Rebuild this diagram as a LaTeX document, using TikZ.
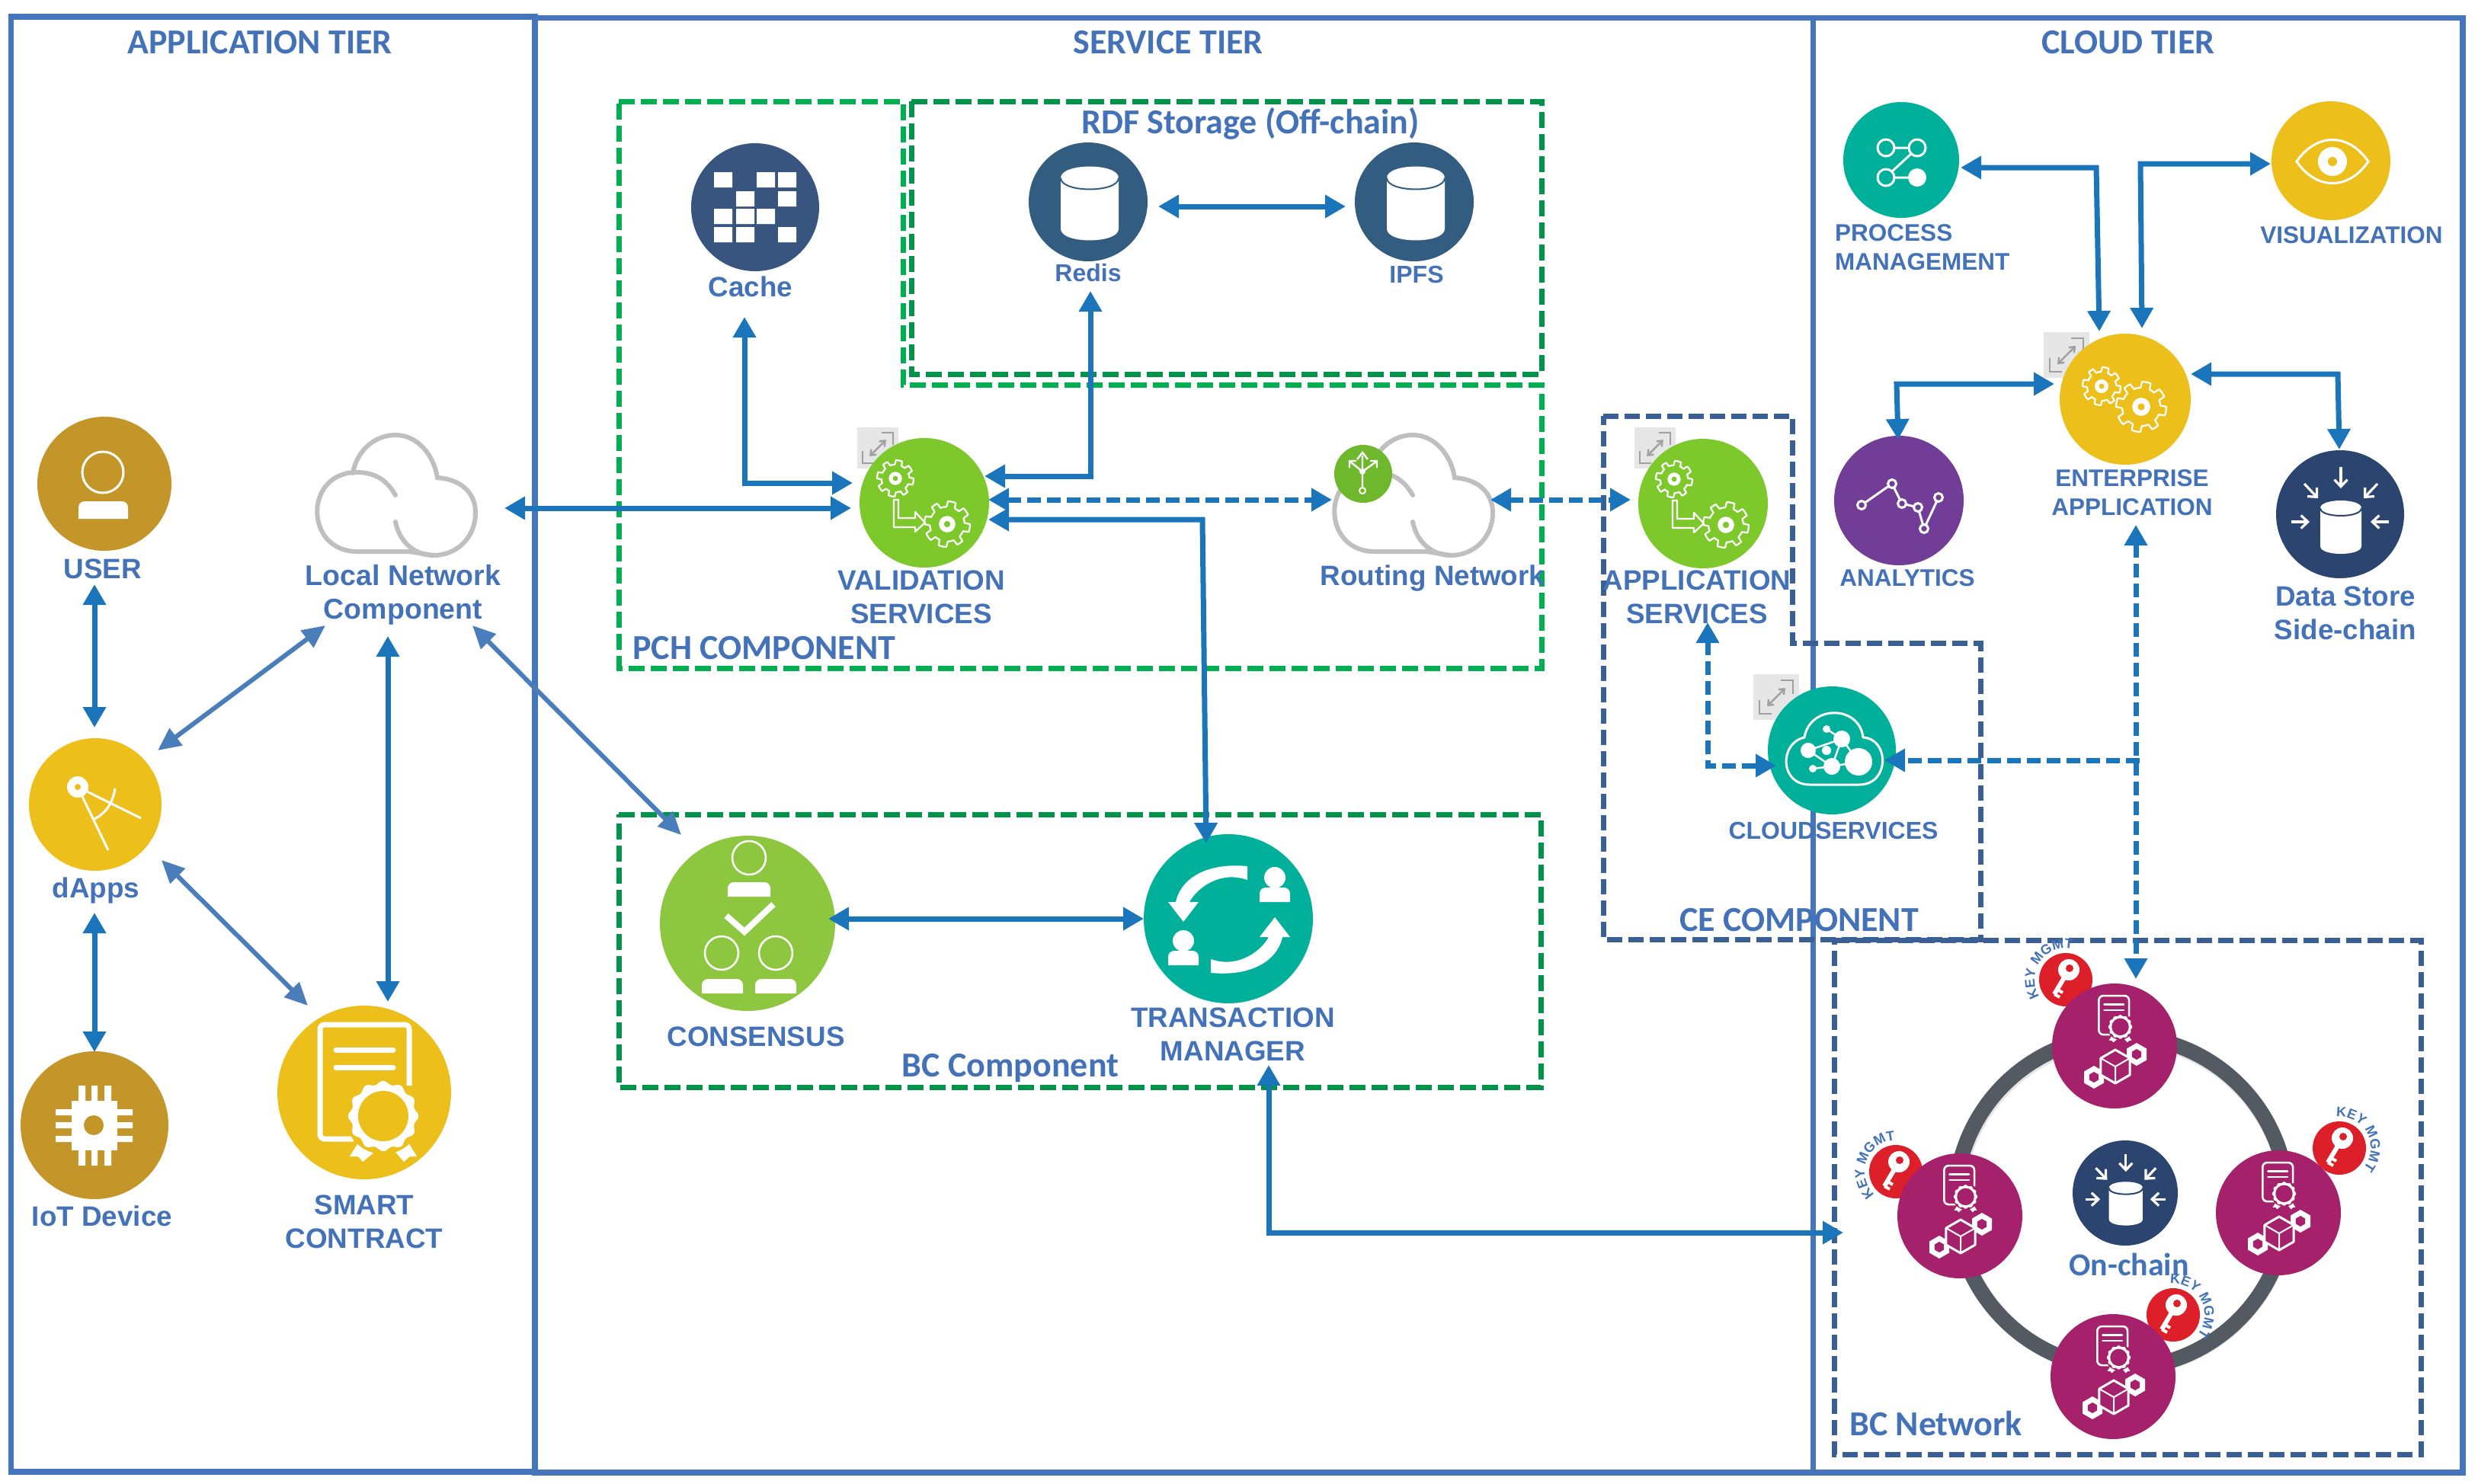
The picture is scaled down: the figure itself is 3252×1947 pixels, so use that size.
\documentclass[tikz,border=0pt]{standalone}
\usepackage{fontspec}
\setmainfont{Liberation Sans}
\newfontfamily\carl{Carlito}
\usetikzlibrary{arrows.meta,decorations.text}
\definecolor{frameblue}{HTML}{4576BD}
\definecolor{labelblue}{HTML}{4472B8}
\definecolor{linkblue}{HTML}{1B75BB}
\definecolor{slantblue}{HTML}{4A7EBB}
\definecolor{pchgreen}{HTML}{00B050}
\definecolor{bcgreen}{HTML}{00944A}
\definecolor{cenavy}{HTML}{3A5F94}
\definecolor{gold}{HTML}{C4962A}
\definecolor{yell}{HTML}{ECBF1B}
\definecolor{valgreen}{HTML}{7DC82A}
\definecolor{consgreen}{HTML}{8DC63F}
\definecolor{routgreen}{HTML}{6DB82C}
\definecolor{teal}{HTML}{00B09B}
\definecolor{navyA}{HTML}{37557F}
\definecolor{navyB}{HTML}{335C81}
\definecolor{navyC}{HTML}{2B4570}
\definecolor{purp}{HTML}{723D97}
\definecolor{magent}{HTML}{A6216C}
\definecolor{keyred}{HTML}{DD1F2A}
\definecolor{ringgray}{HTML}{545A62}
\definecolor{cloudgray}{HTML}{BFBFBF}
\definecolor{expfill}{HTML}{E6E6E6}
\definecolor{expline}{HTML}{A0A0A0}
\tikzset{
 disc/.style={circle,inner sep=0pt,draw=none},
 frm/.style={draw=frameblue,line width=7.5pt},
 pchbox/.style={draw=pchgreen,line width=7pt,dash pattern=on 21pt off 8pt},
 bcbox/.style={draw=bcgreen,line width=7pt,dash pattern=on 21pt off 8pt},
 cebox/.style={draw=cenavy,line width=7pt,dash pattern=on 20pt off 8pt},
 link/.style={draw=linkblue,line width=7pt,{Triangle[length=27pt,width=29pt]}-{Triangle[length=27pt,width=29pt]}},
 dlink/.style={link,dash pattern=on 18pt off 8pt},
 dlinkone/.style={draw=linkblue,line width=7pt,dash pattern=on 18pt off 8pt,-{Triangle[length=27pt,width=29pt]}},
 slant/.style={draw=slantblue,line width=6pt,{Triangle[length=30pt,width=27pt]}-{Triangle[length=30pt,width=27pt]}},
 lbl/.style={text=labelblue,inner sep=0pt,align=center},
 fa/.style={lbl,font=\bfseries\fontsize{36.8}{44}\selectfont},
 fb/.style={lbl,font=\bfseries\fontsize{31.5}{38}\selectfont},
 fc/.style={lbl,font=\bfseries\fontsize{32}{38}\selectfont},
 ttl/.style={lbl,font=\carl\bfseries\fontsize{46}{50}\selectfont},
 ic/.style={white,line width=3pt},
}
\newcommand\iconGear[4]{\begin{scope}[shift={(#1,#2)}]
 \draw[white,line width=2.2pt,line join=round] plot[domain=0:356,samples=90] (\x:{#3*((mod(\x,45)<22.5)?1:0.76)}) -- cycle;
 \fill[white] (0,0) circle[radius=#3*0.36];
 \fill[#4] (0,0) circle[radius=#3*0.14];
\end{scope}}
\newcommand\iconFlow[3]{\begin{scope}[shift={(#1,#2)}]
 \iconGear{-38}{-32}{24}{#3}
 \iconGear{30}{28}{30}{#3}
 \draw[white,line width=2.2pt,line join=round] (-40,-4)--(-34,-4)--(-34,20)--(-12,20)--(-12,12)--(1,26)--(-12,38)--(-12,32)--(-40,32)--cycle;
\end{scope}}
\newcommand\iconExpand[3]{\begin{scope}[shift={(#1,#2)},scale=#3/60]
 \fill[expfill] (-30,-30) rectangle (30,30);
 \draw[expline,line width=2.5pt] (-22,4)--(-22,22)--(-6,22) (22,-4)--(22,-22)--(6,-22);
 \draw[expline,line width=2.5pt,{Straight Barb[length=6pt,width=10pt]}-{Straight Barb[length=6pt,width=10pt]}] (-12,12)--(12,-12);
\end{scope}}
\newcommand\iconBody[4]{\fill[white] (#1,#4) [rounded corners=8pt] -- (#1,#3) -- (#2,#3) [sharp corners] -- (#2,#4) -- cycle;}
\newcommand\iconCloud[2]{\begin{scope}[shift={(#1,#2)}]
 \draw[cloudgray,line width=6pt,line cap=round] (50,78) -- (18,73) -- (-51,73) .. controls (-120,72) and (-120,-31) .. (-51,-31) .. controls (-28,-31) and (-12,-22) .. (0,-1);
 \draw[cloudgray,line width=6pt,line cap=round] (-56,-30) .. controls (-50,-62) and (-25,-80) .. (0,-80) .. controls (28,-80) and (50,-55) .. (55,-24) .. controls (85,-22) and (105,-5) .. (105,22) .. controls (105,55) and (80,78) .. (50,78) .. controls (25,78) and (5,60) .. (0,34);
\end{scope}}
\newcommand\iconCyl[6]{\begin{scope}[shift={(#1,#2)}]
 \pgfmathsetmacro\cyt{-#4/2+#5}\pgfmathsetmacro\cyb{#4/2-#5}\pgfmathsetmacro\cyc{1.33*#5}
 \fill[white] (-#3,\cyt) .. controls (-#3,\cyt-\cyc) and (#3,\cyt-\cyc) .. (#3,\cyt) -- (#3,\cyb) .. controls (#3,\cyb+\cyc) and (-#3,\cyb+\cyc) .. (-#3,\cyb) -- cycle;
 \draw[#6,line width=2pt] (-#3,\cyt) .. controls (-#3,\cyt+\cyc) and (#3,\cyt+\cyc) .. (#3,\cyt);
\end{scope}}
\newcommand\iconDB[4]{\begin{scope}[shift={(#1,#2)},scale=#3]
 \iconCyl{1}{17}{27}{70}{10}{#4}
 \foreach \ax/\ay/\bx/\by in {1/-62/1/-34,-64/10/-40/10,64/10/40/10,-47/-40/-29/-21,49/-40/31/-21}
  \draw[white,line width=3.2pt,-{Straight Barb[length=9pt,width=17pt]}] (\ax,\ay)--(\bx,\by);
\end{scope}}
\newcommand\iconCert[5]{\begin{scope}[shift={(#1,#2)},scale=#3]
 \draw[white,line width=#4pt,rounded corners=6pt] (59,-8)--(59,-88)--(-58,-88)--(-58,62)--(-14,62);
 \draw[white,line width=#4pt,line cap=round] (-37,-55)--(38,-55) (-37,-32)--(38,-32);
 \fill[white] (-5,62)--(-19,85)--(-8,85)--(-2,92)--(15,78)--cycle;
 \fill[white] (40,78)--(52,92)--(60,85)--(69,85)--(55,62)--cycle;
 \fill[#5] (25,32) circle[radius=50];
 \fill[white,shift={(25,32)}] plot[domain=0:357,samples=120,smooth] (\x:{44*(1+0.05*cos(12*\x))}) -- cycle;
 \fill[#5] (25,32) circle[radius=33];
\end{scope}}
\newcommand\hexpath[1]{(30:#1)--(90:#1)--(150:#1)--(210:#1)--(270:#1)--(330:#1)--cycle}
\newcommand\iconBlock[2]{\begin{scope}[shift={(#1,#2)}]
 \begin{scope}[shift={(-28,14)}]\fill[white] \hexpath{15};\fill[magent] \hexpath{7};\end{scope}
 \begin{scope}[shift={(28,-16)}]\fill[white] \hexpath{15};\fill[magent] \hexpath{7};\end{scope}
 \filldraw[draw=white,fill=magent,line width=3pt,line join=round] \hexpath{22};
 \draw[white,line width=2pt] (0,0)--(90:22) (0,0)--(210:22) (0,0)--(330:22);
\end{scope}}
\newcommand\iconPeer[2]{\iconCert{#1-1}{#2-36}{0.34}{2.6}{magent}\iconBlock{#1+1}{#2+27}}
\newcommand\iconKey[2]{\begin{scope}[shift={(#1,#2)}]
 \draw[white,line width=6pt] (4,-13)--(-15,19);
 \draw[white,line width=4pt] (-11,13)--(-4,17) (-15,19)--(-8,23);
 \fill[white] (4,-13) circle[radius=14];
 \fill[keyred] (5,-15) circle[radius=5];
\end{scope}}
\newcommand\keyArc[4]{\path[decorate,decoration={text along path,text align=center,text={|\color{labelblue}\bfseries\fontsize{18}{20}\selectfont|KEY MGMT}}] ({#1+41*cos(#3)},{#2-41*sin(#3)}) arc[start angle=#3,end angle=#4,radius=41pt];}
\begin{document}
\begin{tikzpicture}[x=1pt,y=-1pt]
\fill[white] (0,0) rectangle (3252,1947);
\useasboundingbox (0,0) rectangle (3252,1947);
% tiers
\draw[frm] (14.5,22) rectangle (702,1932);
\draw[frm] (702,23.5) rectangle (2379.5,1933);
\draw[frm] (2379.5,23.5) rectangle (3232,1933);
\node[ttl] (tApp) at (341,56) {APPLICATION TIER};
\node[ttl] (tSvc) at (1533,56) {SERVICE TIER};
\node[ttl] (tCld) at (2793,56) {CLOUD TIER};
% component boxes
\draw[pchbox] (812,133)--(1185,133)--(1185,505)--(2023,505)--(2023,877)--(812,877)--cycle;
\draw[bcbox] (1196,133)--(2023,133)--(2023,491)--(1196,491)--cycle;
\draw[bcbox] (812,1069)--(2022,1069)--(2022,1427)--(812,1427)--cycle;
\draw[cebox] (2104,546)--(2352,546)--(2352,844)--(2599,844)--(2599,1233)--(2104,1233)--cycle;
\draw[cebox] (2407,1234)--(3177,1234)--(3177,1909)--(2407,1909)--cycle;
\node[ttl] (tRdf) at (1641,162) {RDF Storage (Off-chain)};
\node[ttl,anchor=west] (tPch) at (830,851) {PCH COMPONENT};
\node[ttl] (tBc) at (1326,1402) {BC Component};
\node[ttl] (tCe) at (2361,1208) {CE COMPONENT};
\node[ttl,anchor=west] (tNet) at (2427,1869) {BC Network};
% application tier
\node[disc,fill=gold,minimum size=176pt] (user) at (137,635) {};
\draw[white,line width=3pt] (135,620) circle[radius=27];
\iconBody{103}{168}{658}{681}
\node[disc,fill=yell,minimum size=174pt] (dapp) at (125,1056) {};
\draw[ic] (102,1033)--(142,1116) (102,1033)--(185,1074);
\draw[ic] (151,1035) .. controls (148,1055) and (138,1068) .. (124,1075);
\fill[white] (102,1033) circle[radius=14];
\fill[yell] (102,1033) circle[radius=4];
\node[disc,fill=gold,minimum size=194pt] (iot) at (124,1477) {};
\fill[white] (73,1456) rectangle (174,1464) (73,1473) rectangle (174,1481) (73,1491) rectangle (174,1499);
\fill[white] (103,1425) rectangle (112,1530) (120,1425) rectangle (128,1530) (137,1425) rectangle (146,1530);
\fill[white] (94,1445) rectangle (154,1510);
\fill[gold] (123,1477) circle[radius=13];
\node[disc,fill=yell,minimum size=228pt] (smart) at (478,1434) {};
\iconCert{478}{1433}{1}{7}{yell}
\iconCloud{519}{651}
\coordinate (localC) at (519,651);
\node[fa] (userL) at (135,747) {USER};
\node[fa] (dappL) at (126,1169) {dApps};
\node[fa] (iotL) at (134,1596) {IoT Device};
\node[fa] (smartL) at (478,1604) {SMART\\CONTRACT};
\node[lbl,font=\bfseries\fontsize{37.5}{44}\selectfont] (localL) at (529,781) {Local Network\\Component};
% PCH
\node[disc,fill=navyA,minimum size=168pt] (cache) at (991,272) {};
\fill[white] (937,226) rectangle +(24,20) (993,226) rectangle +(24,20) (1021,226) rectangle +(24,20)
 (966,251) rectangle +(24,20) (1021,251) rectangle +(24,20)
 (937,274) rectangle +(24,20) (966,274) rectangle +(24,20) (993,274) rectangle +(24,20)
 (937,298) rectangle +(24,20) (966,298) rectangle +(24,20) (1021,298) rectangle +(24,20);
\node[disc,fill=navyB,minimum size=156pt] (redis) at (1428,265) {};
\iconCyl{1430}{267}{38}{97}{15}{navyB}
\node[disc,fill=navyB,minimum size=156pt] (ipfs) at (1856,265) {};
\iconCyl{1858}{267}{38}{97}{15}{navyB}
\node[fa] (cacheL) at (985,376) {Cache};
\node[fc] (redisL) at (1428,358) {Redis};
\node[fc] (ipfsL) at (1859,360) {IPFS};
\iconExpand{1152}{588}{54}
\node[disc,fill=valgreen,minimum size=170pt] (val) at (1213,660) {};
\iconFlow{1213}{660}{valgreen}
\node[fa] (valL) at (1209,784) {VALIDATION\\SERVICES};
\iconCloud{1854}{651}
\coordinate (routC) at (1854,651);
\node[disc,fill=routgreen,minimum size=76pt] (rout) at (1789,622) {};
\draw[white,line width=2.4pt] (1788,640)--(1788,598) (1788,619)--(1772,606) (1788,619)--(1806,606);
\draw[white,line width=2.4pt] (1781,603)--(1788,594)--(1795,603) (1771,614)--(1771,605)--(1780,605) (1807,614)--(1807,605)--(1798,605);
\fill[white] (1788,619) circle[radius=4];
\draw[white,line width=2pt] (1788,644) circle[radius=4];
\node[fa] (routL) at (1880,759) {Routing Network};
% BC component
\node[disc,fill=consgreen,minimum size=230pt] (cons) at (981,1212) {};
\draw[white,line width=2.5pt] (983,1126) circle[radius=22];
\iconBody{955}{1011}{1158}{1177}
\draw[white,line width=8pt] (953,1202)--(977,1223)--(1015,1187);
\draw[white,line width=2.5pt] (947,1251) circle[radius=22] (1018,1251) circle[radius=22];
\iconBody{921}{975}{1285}{1304}
\iconBody{991}{1045}{1285}{1304}
\node[disc,fill=teal,minimum size=222pt] (tm) at (1612,1206) {};
\begin{scope}[shift={(1613,1207)}]
 \fill[white] (24,-70) .. controls (-28,-75) and (-63,-55) .. (-70,-23) -- (-80,-23) -- (-60,3) -- (-40,-23) -- (-52,-23) .. controls (-43,-40) and (-13,-65) .. (24,-52) -- cycle;
 \fill[white] (-24,70) .. controls (28,75) and (63,55) .. (70,23) -- (80,23) -- (60,-3) -- (40,23) -- (52,23) .. controls (43,40) and (13,65) .. (-24,52) -- cycle;
\end{scope}
\fill[white] (1673,1152) circle[radius=14] (1553,1235) circle[radius=14];
\iconBody{1653}{1693}{1165}{1184}
\iconBody{1533}{1573}{1248}{1267}
\node[fa] (consL) at (992,1361) {CONSENSUS};
\node[fa] (tmL) at (1618,1358) {TRANSACTION\\MANAGER};
% CE
\iconExpand{2172}{588}{54}
\node[disc,fill=valgreen,minimum size=170pt] (app) at (2235,661) {};
\iconFlow{2235}{661}{valgreen}
\node[fa] (appL) at (2227,784) {APPLICATION\\SERVICES};
\iconExpand{2331}{915}{60}
\node[disc,fill=teal,minimum size=168pt] (csv) at (2404,985) {};
\draw[white,line width=3pt,line join=round] (2375,1030) .. controls (2335,1030) and (2335,975) .. (2368,968) .. controls (2375,925) and (2440,925) .. (2445,968) .. controls (2480,970) and (2480,1030) .. (2440,1030) -- cycle;
\draw[white,line width=2.5pt] (2373,985)--(2417,970)--(2404,1006)--(2373,985) (2417,970)--(2439,1000)--(2404,1006)--(2379,1009) (2397,957)--(2417,970);
\fill[white] (2373,985) circle[radius=10] (2417,970) circle[radius=11] (2439,1000) circle[radius=18] (2404,1006) circle[radius=11] (2397,985) circle[radius=6] (2397,957) circle[radius=5] (2379,1009) circle[radius=5];
\node[fc] (csvL) at (2406,1090) {CLOUDSERVICES};
% cloud tier
\node[disc,fill=teal,minimum size=152pt] (proc) at (2495,210) {};
\draw[white,line width=3pt] (2475,194) circle[radius=11] (2516,194) circle[radius=11] (2475,233) circle[radius=11] (2486,194)--(2505,194) (2486,233)--(2505,233) (2508,202)--(2483,225);
\fill[white] (2516,233) circle[radius=12];
\node[fb,align=left,anchor=west] (procL) at (2408,325) {PROCESS\\MANAGEMENT};
\node[disc,fill=yell,minimum size=156pt] (vis) at (3059,211) {};
\draw[white,line width=3pt] (3014,212) .. controls (3040,174) and (3082,174) .. (3108,212) .. controls (3082,250) and (3040,250) .. (3014,212) -- cycle;
\fill[white] (3061,212) circle[radius=19];
\fill[yell] (3061,212) circle[radius=6];
\node[fb] (visL) at (3086,309) {VISUALIZATION};
\iconExpand{2712}{466}{60}
\node[disc,fill=yell,minimum size=172pt] (ent) at (2789,524) {};
\iconGear{2758}{507}{25}{yell}
\iconGear{2810}{534}{33}{yell}
\node[fb] (entL) at (2798,647) {ENTERPRISE\\APPLICATION};
\node[disc,fill=purp,minimum size=170pt] (ana) at (2492,657) {};
\draw[white,line width=3pt] (2443,663)--(2483,635)--(2496,661)--(2517,666)--(2525,694)--(2544,653);
\foreach \px/\py in {2443/663,2483/635,2496/661,2517/666,2525/694,2544/653}
 \filldraw[draw=white,fill=purp,line width=3pt] (\px,\py) circle[radius=5.5];
\node[fb] (anaL) at (2503,759) {ANALYTICS};
\node[disc,fill=navyC,minimum size=168pt] (ds) at (3071,675) {};
\iconDB{3071}{675}{1}{navyC}
\node[fa] (dsL) at (3078,805) {Data Store\\Side-chain};
% BC network
\draw[black!20,line width=20pt,opacity=0.5] (2785,1580) circle[radius=217];
\draw[ringgray,line width=20pt] (2784,1578) circle[radius=218];
\node[disc,fill=keyred,minimum size=70pt] (k1) at (2711,1286) {};
\iconKey{2711}{1286}
\keyArc{2711}{1286}{235}{55}
\node[disc,fill=keyred,minimum size=70pt] (k2) at (3070,1507) {};
\iconKey{3070}{1507}
\keyArc{3070}{1507}{118}{-62}
\node[disc,fill=keyred,minimum size=70pt] (k3) at (2488,1538) {};
\iconKey{2488}{1538}
\keyArc{2488}{1538}{249}{69}
\node[disc,fill=keyred,minimum size=70pt] (k4) at (2852,1726) {};
\iconKey{2852}{1726}
\keyArc{2852}{1726}{118}{-62}
\node[disc,fill=magent,minimum size=164pt] (p1) at (2775,1373) {};
\iconPeer{2775}{1373}
\node[disc,fill=magent,minimum size=164pt] (p2) at (2990,1592) {};
\iconPeer{2990}{1592}
\node[disc,fill=magent,minimum size=164pt] (p3) at (2572,1596) {};
\iconPeer{2572}{1596}
\node[disc,fill=magent,minimum size=164pt] (p4) at (2773,1807) {};
\iconPeer{2773}{1807}
\node[disc,fill=navyC,minimum size=138pt] (onc) at (2789,1566) {};
\iconDB{2789}{1566}{0.82}{navyC}
\node[ttl,font=\carl\bfseries\fontsize{42}{50}\selectfont] (oncL) at (2794,1660) {On-chain};
% connector ends
\coordinate (userS) at (124,767);
\coordinate (dappN) at (124,955);
\coordinate (dappS) at (124,1198);
\coordinate (iotN) at (124,1381);
\coordinate (dappNE) at (207,985);
\coordinate (localSW) at (427,821);
\coordinate (dappSE) at (212,1129);
\coordinate (smartNW) at (404,1320);
\coordinate (localS) at (509,835);
\coordinate (smartN) at (509,1315);
\coordinate (localSE) at (620,821);
\coordinate (consNW) at (894,1096);
\coordinate (localE) at (662,667);
\coordinate (valW) at (1117,667);
\coordinate (cacheS) at (977,416);
\coordinate (cacheBend) at (977,634);
\coordinate (valNW) at (1119,634);
\coordinate (redisS) at (1431,382);
\coordinate (redisBend) at (1431,625);
\coordinate (valNE) at (1292,625);
\coordinate (redisE) at (1520,271);
\coordinate (ipfsW) at (1766,271);
\coordinate (valE) at (1297,656);
\coordinate (routW) at (1748,656);
\coordinate (routE) at (1956,656);
\coordinate (appW) at (2140,656);
\coordinate (valSE) at (1297,682);
\coordinate (tmBend) at (1578,682);
\coordinate (tmN) at (1583,1107);
\coordinate (consE) at (1087,1206);
\coordinate (tmW) at (1501,1206);
\coordinate (tmS) at (1665,1398);
\coordinate (tmBendB) at (1665,1618);
\coordinate (netW) at (2419,1618);
\coordinate (procE) at (2573,220);
\coordinate (procBend) at (2751,220);
\coordinate (entNa) at (2755,435);
\coordinate (visW) at (2980,215);
\coordinate (visBend) at (2809,215);
\coordinate (entNb) at (2811,431);
\coordinate (entW) at (2696,504);
\coordinate (anaBend) at (2489,504);
\coordinate (anaN) at (2491,577);
\coordinate (entE) at (2875,491);
\coordinate (dsBend) at (3068,491);
\coordinate (dsN) at (3070,590);
\coordinate (appS) at (2241,817);
\coordinate (csvBend) at (2241,1005);
\coordinate (csvW) at (2331,1005);
\coordinate (entS) at (2803,689);
\coordinate (netN) at (2803,1285);
\coordinate (csvE) at (2473,998);
\coordinate (joinP) at (2808,998);
% connectors
\draw[link] (userS)--(dappN);
\draw[link] (dappS)--(iotN);
\draw[slant] (dappNE)--(localSW);
\draw[slant] (dappSE)--(smartNW);
\draw[link] (localS)--(smartN);
\draw[slant] (localSE)--(consNW);
\draw[link] (localE)--(valW);
\draw[link] (cacheS)--(cacheBend)--(valNW);
\draw[link] (redisS)--(redisBend)--(valNE);
\draw[link] (redisE)--(ipfsW);
\draw[dlink] (valE)--(routW);
\draw[dlink] (routE)--(appW);
\draw[link] (valSE)--(tmBend)--(tmN);
\draw[link] (consE)--(tmW);
\draw[link] (tmS)--(tmBendB)--(netW);
\draw[link] (procE)--(procBend)--(entNa);
\draw[link] (visW)--(visBend)--(entNb);
\draw[link] (entW)--(anaBend)--(anaN);
\draw[link] (entE)--(dsBend)--(dsN);
\draw[dlink] (appS)--(csvBend)--(csvW);
\draw[dlink] (entS)--(netN);
\draw[dlinkone] (joinP)--(csvE);
\end{tikzpicture}
\end{document}
